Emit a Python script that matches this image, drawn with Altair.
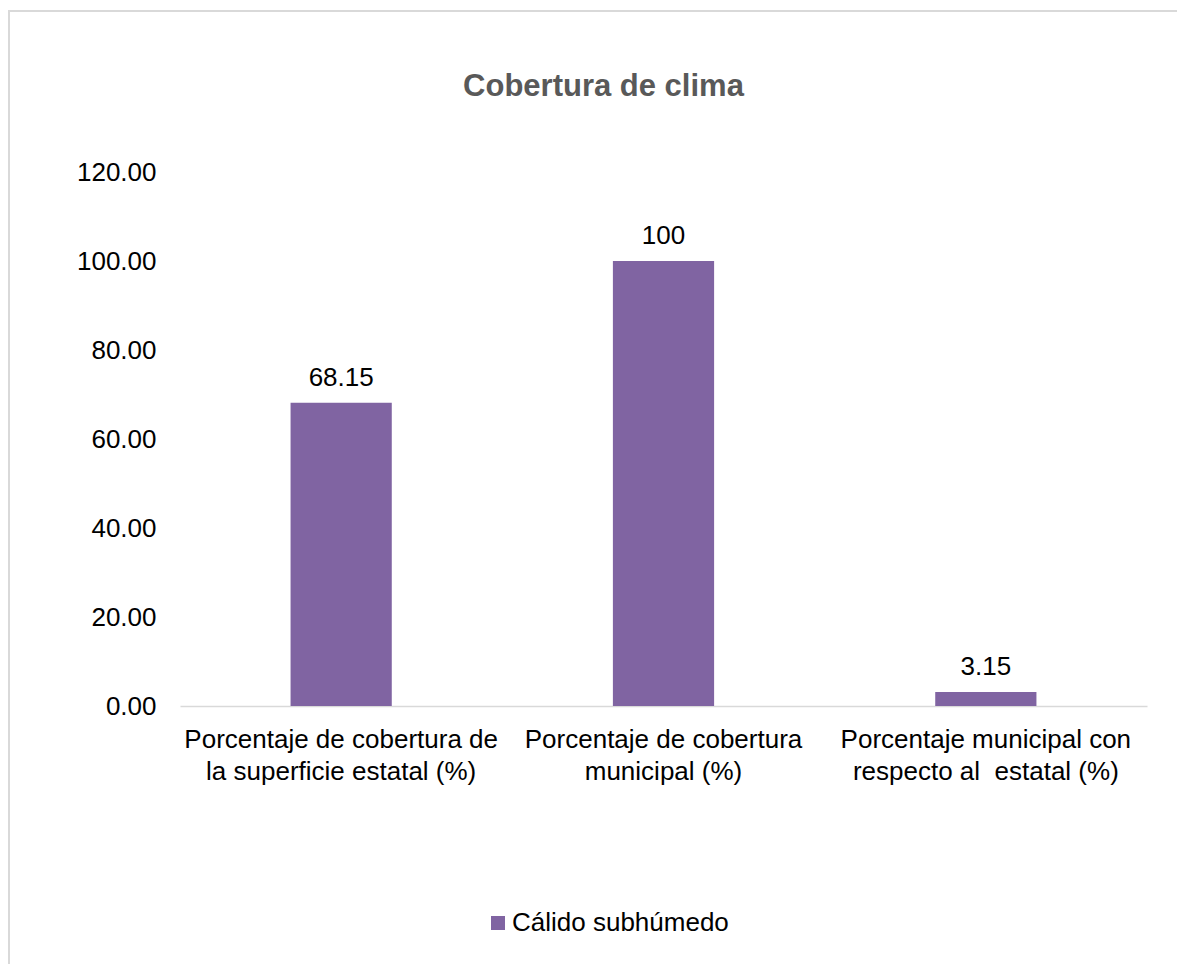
import altair as alt
import pandas as pd

categories = [
    "Porcentaje de cobertura de\nla superficie estatal (%)",
    "Porcentaje de cobertura\nmunicipal (%)",
    "Porcentaje municipal con\nrespecto al\u00a0 estatal (%)",
]
values = [68.15, 100, 3.15]
value_labels = ["68.15", "100", "3.15"]
series = ["Cálido subhúmedo"] * 3
y_ticks = [0, 20, 40, 60, 80, 100, 120]
title_text = "Cobertura de clima"

df = pd.DataFrame({"cat": categories, "val": values, "lbl": value_labels, "serie": series})

FONT = "Liberation Sans"
PURPLE = "#8064A2"

xenc = alt.X(
    "cat:N",
    sort=categories,
    title=None,
    scale=alt.Scale(paddingInner=0.686, paddingOuter=0.343),
    axis=alt.Axis(
        labelExpr="split(datum.value, '\\n')",
        labelAngle=0,
        labelFontSize=26,
        labelFont=FONT,
        labelColor="#000000",
        labelLineHeight=32,
        labelPadding=20,
        ticks=False,
        domainColor="#D9D9D9",
        domainWidth=1.5,
        labelLimit=500,
    ),
)
yenc = alt.Y(
    "val:Q",
    title=None,
    scale=alt.Scale(domain=[0, 120], nice=False, zero=True),
    axis=alt.Axis(
        values=y_ticks,
        format=".2f",
        labelFontSize=26,
        labelFont=FONT,
        labelColor="#000000",
        labelPadding=24,
        ticks=False,
        domain=False,
        grid=False,
    ),
)

base = alt.Chart(df)

bars = base.mark_bar(color=PURPLE).encode(
    x=xenc,
    y=yenc,
    color=alt.Color(
        "serie:N",
        scale=alt.Scale(range=[PURPLE]),
        legend=alt.Legend(
            title=None,
            orient="none",
            legendX=305,
            legendY=738,
            symbolType="square",
            symbolSize=196,
            symbolStrokeWidth=0,
            labelFontSize=26,
            labelFont=FONT,
            labelColor="#000000",
            labelOffset=1,
            labelLimit=600,
            padding=0,
        ),
    ),
)

labels = base.mark_text(
    fontSize=26, font=FONT, color="#000000", baseline="alphabetic", dy=-17
).encode(x=alt.X("cat:N", sort=categories), y="val:Q", text="lbl:N")

title = alt.Chart(pd.DataFrame({"t": [title_text]})).mark_text(
    fontSize=31, font=FONT, fontWeight="bold", color="#595959", baseline="alphabetic", align="center"
).encode(x=alt.value(423.5), y=alt.value(-76), text="t:N")

border = alt.Chart(pd.DataFrame({"t": [0]})).mark_rect(
    fill="transparent", stroke="#D9D9D9", strokeWidth=2, clip=False
).encode(x=alt.value(-171), x2=alt.value(1100), y=alt.value(-161), y2=alt.value(900))

chart = alt.layer(border, bars, labels, title).properties(
    width=967,
    height=534,
    padding={"left": 172, "top": 164, "right": 30, "bottom": 258},
    autosize=alt.AutoSizeParams(type="none"),
    background="white",
).configure_view(strokeWidth=0, stroke="transparent")

chart.save("out.html", embed_options={"renderer": "svg", "actions": False})
